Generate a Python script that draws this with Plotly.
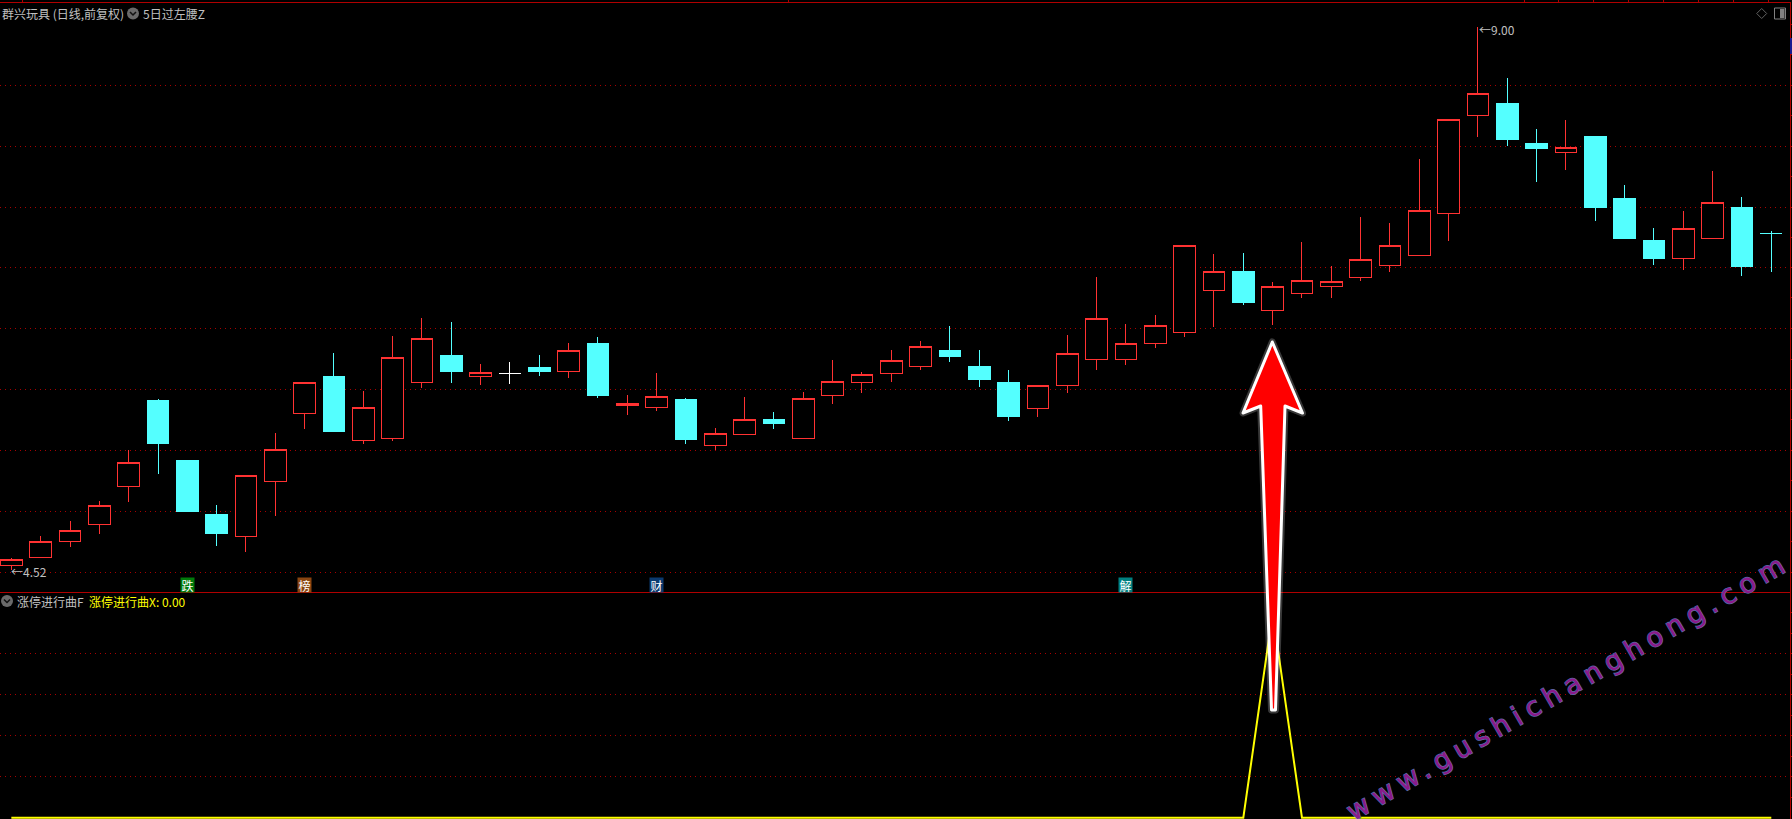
import plotly.graph_objects as go

# ---------- data ----------
bars = list(range(61))
opens = [4.559,4.622,4.754,4.894,5.208,5.915,5.420,4.982,4.795,5.252,5.810,6.113,5.590,5.607,6.069,6.294,6.115,6.143,6.195,6.156,
         6.393,5.876,5.859,5.923,5.546,5.637,5.766,5.607,5.958,6.066,6.140,6.198,6.335,6.203,6.071,5.851,6.041,6.255,6.255,6.387,
         6.478,6.825,6.987,6.660,6.800,6.858,6.932,7.031,7.113,7.463,8.268,8.365,8.043,7.963,8.093,7.589,7.235,7.089,7.254,7.515,7.298]
highs = [4.622,4.801,4.925,5.090,5.510,5.931,5.420,5.057,5.302,5.651,6.069,6.311,5.997,6.451,6.599,6.566,6.220,6.236,6.294,6.393,
         6.443,5.964,6.146,5.939,5.692,5.948,5.824,5.989,6.253,6.154,6.335,6.410,6.533,6.335,6.170,6.044,6.459,6.938,6.550,6.624,
         7.199,7.127,7.136,6.896,7.226,7.028,7.433,7.383,7.911,8.239,9.00,8.579,8.159,8.233,8.093,7.697,7.342,7.482,7.812,7.598,7.317]
lows = [4.52,4.622,4.712,4.820,5.084,5.315,5.007,4.721,4.671,4.968,5.686,5.659,5.562,5.587,6.024,6.066,6.049,6.057,6.123,6.107,
        5.942,5.802,5.835,5.562,5.513,5.637,5.686,5.607,5.892,5.983,6.074,6.173,6.239,6.033,5.752,5.785,5.983,6.173,6.214,6.354,
        6.445,6.525,6.709,6.542,6.767,6.767,6.907,6.981,7.113,7.237,8.095,8.021,7.724,7.823,7.402,7.259,7.037,6.998,7.254,6.948,6.981]
closes = [4.609,4.757,4.848,5.054,5.409,5.562,5.007,4.820,5.302,5.516,6.069,5.659,5.863,6.275,6.432,6.154,6.151,6.143,6.154,6.333,
          5.956,5.890,5.953,5.593,5.648,5.764,5.725,5.937,6.077,6.135,6.250,6.366,6.278,6.096,5.783,6.044,6.308,6.597,6.391,6.539,
          7.199,6.985,6.726,6.861,6.910,6.902,7.084,7.199,7.488,8.239,8.453,8.068,7.994,8.008,7.515,7.259,7.094,7.339,7.554,7.028,7.298]
white_flat_bars = [17]
cyan_flat_bars = [60]
indicator = [0]*61
indicator[43] = 1

price_grid = [8.519,8.016,7.513,7.016,6.513,6.009,5.506,5.003,4.500]
price_minor = [9.022,8.771,8.268,7.765,7.265,6.765,6.261,5.758,5.255,4.752]
ind_grid = [0.2,0.4,0.6,0.8]
ind_minor = [0.1,0.3,0.5,0.7,0.9,1.0]
top_marks = [0.364,26.5,51.57,52.73,53.93,55.14,56.31,57.53,58.70,59.92]

TITLE = "群兴玩具 (日线,前复权)"
FORMULA = "5日过左腰Z"
SUB_TITLE = "涨停进行曲F"
SUB_VALUE = "涨停进行曲X: 0.00"
HIGH_LABEL = "←9.00"
LOW_LABEL = "←4.52"
WATERMARK = "www.gushichanghong.com"
badge_text = ["跌", "榜", "财", "解"]
badge_bar = [6, 10, 22, 38]
badge_color = ["#007a0a", "#8a4510", "#0a3a70", "#008080"]

# ---------- style ----------
W, H = 1792, 819
ML, MR, MT, MB = 0, 2, 3, 0
RED, CYAN, YELLOW = "#FF3232", "#54FFFF", "#FFFF00"
FRAME = "#B00000"
GRID = "#A80000"
GREY = "#C0C0C0"
CJK = "Noto Sans CJK SC"

def fx(px): return (px - ML) / (W - ML - MR)
def fy(py): return (H - MB - py) / (H - MT - MB)

SPLIT = fy(592.5)
main = [i for i in bars if i not in white_flat_bars and i not in cyan_flat_bars]

def candle(idx, up_line, up_fill, down_line, down_fill):
    return go.Candlestick(
        x=[bars[i] for i in idx], open=[opens[i] for i in idx], high=[highs[i] for i in idx],
        low=[lows[i] for i in idx], close=[closes[i] for i in idx],
        increasing=dict(line=dict(color=up_line, width=1), fillcolor=up_fill),
        decreasing=dict(line=dict(color=down_line, width=1), fillcolor=down_fill),
        whiskerwidth=0, xaxis="x", yaxis="y", showlegend=False, hoverinfo="skip")

fig = go.Figure()
fig.add_trace(candle(main, RED, "#000000", CYAN, CYAN))
fig.add_trace(candle(white_flat_bars, "#FFFFFF", "#FFFFFF", "#FFFFFF", "#FFFFFF"))
fig.add_trace(candle(cyan_flat_bars, CYAN, CYAN, CYAN, CYAN))
fig.add_trace(go.Scatter(
    x=bars, y=indicator, mode="lines", line=dict(color=YELLOW, width=2),
    xaxis="x2", yaxis="y2", showlegend=False, hoverinfo="skip"))

xr = [-11.33/29.333, (W - MR - 11.33)/29.333]

def ann(text, px, py, color=GREY, size=12, **kw):
    return dict(text=text, xref="paper", yref="paper", x=fx(px), y=fy(py), xanchor="left", yanchor="middle",
                showarrow=False, align="left", font=dict(family=CJK, size=size, color=color), borderpad=0, **kw)

annotations = [
    ann(TITLE, 1, 13.5),
    ann(FORMULA, 141.5, 13.5),
    ann(SUB_TITLE, 16, 601.5),
    ann(SUB_VALUE, 88, 601.5, color=YELLOW),
    ann(HIGH_LABEL, 1478, 29.5),
    ann(LOW_LABEL, 10, 571),
]
for ch, bar, bg in zip(badge_text, badge_bar, badge_color):
    annotations.append(dict(
        text=ch, xref="x", yref="paper", x=bar, y=fy(585), xanchor="center", yanchor="middle",
        showarrow=False, font=dict(family=CJK, size=12, color="#FFFFFF"), borderpad=0,
        bgcolor=bg, width=13, height=14))
annotations.append(dict(
    text=WATERMARK, xref="paper", yref="paper", x=fx(1568), y=fy(686), xanchor="center", yanchor="middle",
    textangle=-30, showarrow=False, font=dict(family="DejaVu Sans", size=27, color="#8B1A8B")))

def path(points):
    return "M" + "L".join(f"{fx(a):.5f},{fy(b):.5f}" for a, b in points)

arrow = path([(1272.3,342),(1302.5,413),(1285,406),(1275.5,710),(1271.5,710),(1260.7,406),(1243,413)]) + "Z"

def circle(cx, cy, r, **kw):
    return dict(type="circle", xref="paper", yref="paper", x0=fx(cx-r), x1=fx(cx+r), y0=fy(cy+r), y1=fy(cy-r), layer="above", **kw)

shapes = []
for cx, cy in [(133, 13.5), (7, 601)]:
    shapes.append(circle(cx, cy, 6, fillcolor="#6A6A6A", line=dict(width=0)))
    shapes.append(dict(type="path", xref="paper", yref="paper", layer="above",
                       path=path([(cx-3, cy-1.5), (cx, cy+1.5), (cx+3, cy-1.5)]),
                       line=dict(color="#111111", width=1.5)))
shapes += [
    dict(type="path", xref="paper", yref="paper", layer="above",
         path=path([(1761.7,8.5),(1766.7,13.5),(1761.7,18.5),(1756.7,13.5)]) + "Z",
         line=dict(color="#606060", width=1)),
    dict(type="rect", xref="paper", yref="paper", layer="above",
         x0=fx(1774.5), x1=fx(1785.5), y0=fy(19), y1=fy(8), line=dict(color="#808080", width=1)),
    dict(type="rect", xref="paper", yref="paper", layer="above",
         x0=fx(1780), x1=fx(1784.5), y0=fy(18), y1=fy(9), fillcolor="#808080", line=dict(width=0)),
    dict(type="rect", xref="paper", yref="paper", layer="above",
         x0=fx(1790), x1=fx(1792), y0=fy(54), y1=fy(38), fillcolor="#1A1A90", line=dict(width=0)),
    dict(type="path", xref="paper", yref="paper", layer="above", path=arrow,
         line=dict(color="rgba(255,255,255,0.22)", width=7)),
    dict(type="path", xref="paper", yref="paper", layer="above", path=arrow,
         fillcolor="#FF0000", line=dict(color="#FFFFFF", width=3)),
]

fig.update_layout(
    width=W, height=H, margin=dict(l=ML, r=MR, t=MT, b=MB, pad=0),
    paper_bgcolor="#000000", plot_bgcolor="#000000",
    showlegend=False, boxgap=0.26, boxgroupgap=0, boxmode="overlay",
    annotations=annotations, shapes=shapes,
    xaxis=dict(domain=[0, 1], range=xr, anchor="y", side="top", rangeslider=dict(visible=False),
               showgrid=False, zeroline=False, showline=True, linecolor=FRAME, linewidth=1,
               tickmode="array", tickvals=top_marks, ticks="outside", ticklen=3, tickcolor=FRAME,
               showticklabels=False),
    yaxis=dict(domain=[SPLIT, 1], range=[4.3347, 9.198], anchor="x", side="right",
               showline=True, linecolor=FRAME, linewidth=1, zeroline=False,
               tickmode="array", tickvals=price_grid, showticklabels=False,
               ticks="outside", ticklen=3, tickcolor=FRAME,
               showgrid=True, gridcolor=GRID, griddash="1px,4px", gridwidth=1,
               minor=dict(tickmode="array", tickvals=price_minor, ticks="outside", ticklen=3,
                          tickcolor=FRAME, showgrid=False)),
    xaxis2=dict(domain=[0, 1], range=xr, anchor="y2", side="top", showgrid=False, zeroline=False,
                showline=True, linecolor=FRAME, linewidth=1, showticklabels=False, ticks=""),
    yaxis2=dict(domain=[0, SPLIT], range=[-0.0063, 1.0985], anchor="x2", side="right",
                showline=True, linecolor=FRAME, linewidth=1, zeroline=False,
                tickmode="array", tickvals=ind_grid, showticklabels=False,
                ticks="outside", ticklen=3, tickcolor=FRAME,
                showgrid=True, gridcolor=GRID, griddash="1px,4px", gridwidth=1,
                minor=dict(tickmode="array", tickvals=ind_minor, ticks="outside", ticklen=3,
                           tickcolor=FRAME, showgrid=False)),
)

post = """
document.body.style.margin='0';
document.body.style.background='#000';
document.documentElement.style.overflow='hidden';
document.querySelectorAll('.shapelayer path').forEach(function(p){p.style.strokeLinejoin='round';});
document.querySelectorAll('.boxlayer path').forEach(function(p){p.style.shapeRendering='crispEdges';});
document.querySelectorAll('.annotation-text').forEach(function(t){
  if(t.textContent.indexOf('gushi')>=0){
    t.style.letterSpacing='6.6px';
    t.style.stroke='#5A6AA8';
    t.style.strokeWidth='1.4px';
    t.style.paintOrder='stroke';
  }
});
"""
fig.write_html("out.html", post_script=post, config={"displayModeBar": False})
